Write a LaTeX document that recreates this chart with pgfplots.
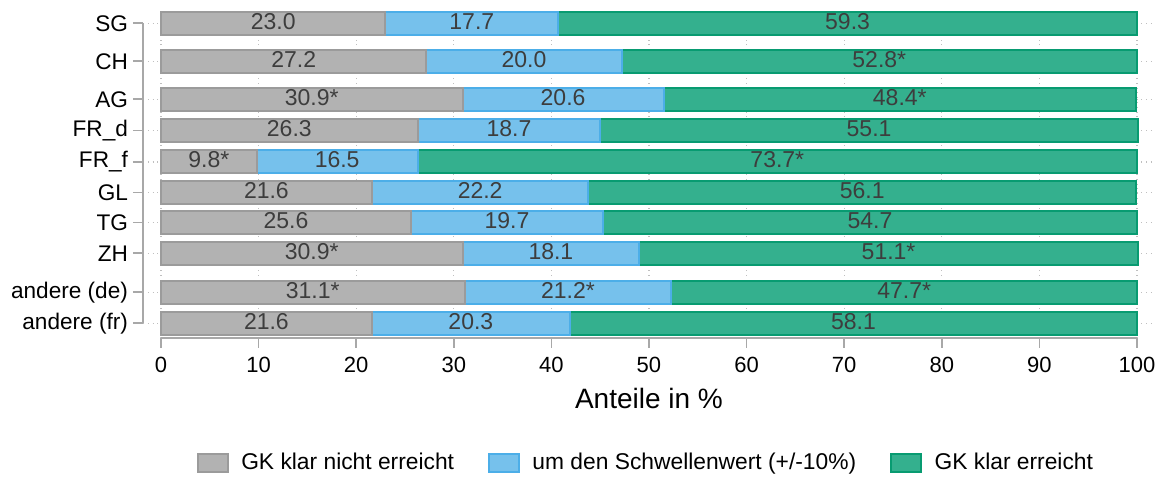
\documentclass[border=0pt]{standalone}
\usepackage{fontspec}
\setmainfont{Liberation Sans}
\usepackage{pgfplots}
\usepackage{pgfplotstable}
\pgfplotsset{compat=1.18}
\definecolor{gkno}{HTML}{B2B2B2}
\definecolor{gknoline}{HTML}{9B9B9B}
\definecolor{gkmid}{HTML}{76C1EC}
\definecolor{gkmidline}{HTML}{4CAEE8}
\definecolor{gkyes}{HTML}{34B08E}
\definecolor{gkyesline}{HTML}{089B71}
\definecolor{axisgray}{HTML}{A8A8A8}
\definecolor{labtext}{HTML}{3D3D3D}

% pos = row position (pixels from top, negated)
\pgfplotstableread{
pos    a    b    c    la    lb    lc
-23.3  23.0 17.7 59.3 23.0  17.7  59.3
-61.3  27.2 20.0 52.8 27.2  20.0  52.8*
-99.3  30.9 20.6 48.4 30.9* 20.6  48.4*
-130.7 26.3 18.7 55.1 26.3  18.7  55.1
-162.0 9.8  16.5 73.7 9.8*  16.5  73.7*
-192.7 21.6 22.2 56.1 21.6  22.2  56.1
-222.7 25.6 19.7 54.7 25.6  19.7  54.7
-253.3 30.9 18.1 51.1 30.9* 18.1  51.1*
-292.3 31.1 21.2 47.7 31.1* 21.2* 47.7*
-323.3 21.6 20.3 58.1 21.6  20.3  58.1
}\data

\begin{document}
\begin{tikzpicture}
\begin{axis}[
  scale only axis, width=506pt, height=165pt,
  xmin=-1.844, xmax=101.84, ymin=-338, ymax=-8,
  axis lines*=left, axis line style={draw=none},
  xtick={0,10,...,100},
  ytick={-323.3,-292.3,-253.3,-222.7,-192.7,-162.0,-130.7,-99.3,-61.3,-23.3},
  yticklabels={andere (fr),andere (de),ZH,TG,GL,FR\_f,FR\_d,AG,CH,SG},
  tick align=outside, major tick length=5pt,
  tick style={axisgray, line width=0.8pt},
  grid=major, grid style={gray!50, dotted, line width=0.6pt},
  /pgf/number format/assume math mode=true,
  tick label style={font=\fontsize{11}{13}\selectfont, black},
  xticklabel style={yshift=-1pt},
  yticklabel style={xshift=1pt, font=\fontsize{11.3}{13}\selectfont},
  xlabel={Anteile in \%},
  xlabel style={at={(axis description cs:0.5,-0.182)}, anchor=center, font=\fontsize{14}{16}\selectfont},
  legend columns=3,
  legend style={at={(axis description cs:0.498,-0.379)}, anchor=center, draw=none,
    font=\fontsize{11.4}{13}\selectfont,
    /tikz/every even column/.append style={column sep=15pt}},
  legend image code/.code={\draw[#1, line width=1pt] (0pt,-4.5pt) rectangle (15pt,4.5pt);
    \path (19.5pt,0pt);},
  clip=false,
]
\addlegendimage{fill=gkno, draw=gknoline}
\addlegendentry{GK klar nicht erreicht}
\addlegendimage{fill=gkmid, draw=gkmidline}
\addlegendentry{um den Schwellenwert (+/-10\%)}
\addlegendimage{fill=gkyes, draw=gkyesline}
\addlegendentry{GK klar erreicht}

% segments painted from the back: total, then a+b, then a
\addplot[forget plot, xbar, bar width=23, fill=gkyes, draw=gkyesline, line width=1pt]
  table[x expr=\thisrow{a}+\thisrow{b}+\thisrow{c}, y=pos] {\data};
\addplot[forget plot, xbar, bar width=23, fill=gkmid, draw=gkmidline, line width=1pt]
  table[x expr=\thisrow{a}+\thisrow{b}, y=pos] {\data};
\addplot[forget plot, xbar, bar width=23, fill=gkno, draw=gknoline, line width=1pt]
  table[x=a, y=pos] {\data};

\pgfplotsset{barlab/.style={forget plot, only marks, mark=*, mark size=0pt,
  mark options={draw=none, fill=none}, nodes near coords, point meta=explicit symbolic,
  every node near coord/.style={anchor=center, yshift=1pt, text=labtext,
  font=\fontsize{11.5}{13}\selectfont}}}
\addplot[barlab] table[x expr=\thisrow{a}/2, y=pos, meta=la] {\data};
\addplot[barlab] table[x expr=\thisrow{a}+\thisrow{b}/2, y=pos, meta=lb] {\data};
\addplot[barlab] table[x expr=\thisrow{a}+\thisrow{b}+\thisrow{c}/2, y=pos, meta=lc] {\data};

\draw[axisgray, line width=0.8pt] (axis cs:-1.844,-23.3) -- (axis cs:-1.844,-323.3);
\draw[axisgray, line width=0.8pt] (axis cs:0,-338) -- (axis cs:100,-338);

\coordinate (bbtl) at (axis cs:-16.496,0);
\coordinate (bbbr) at (axis cs:103.59,-477);
\end{axis}
\pgfresetboundingbox
\path[use as bounding box] (bbtl) rectangle (bbbr);
\end{tikzpicture}
\end{document}
